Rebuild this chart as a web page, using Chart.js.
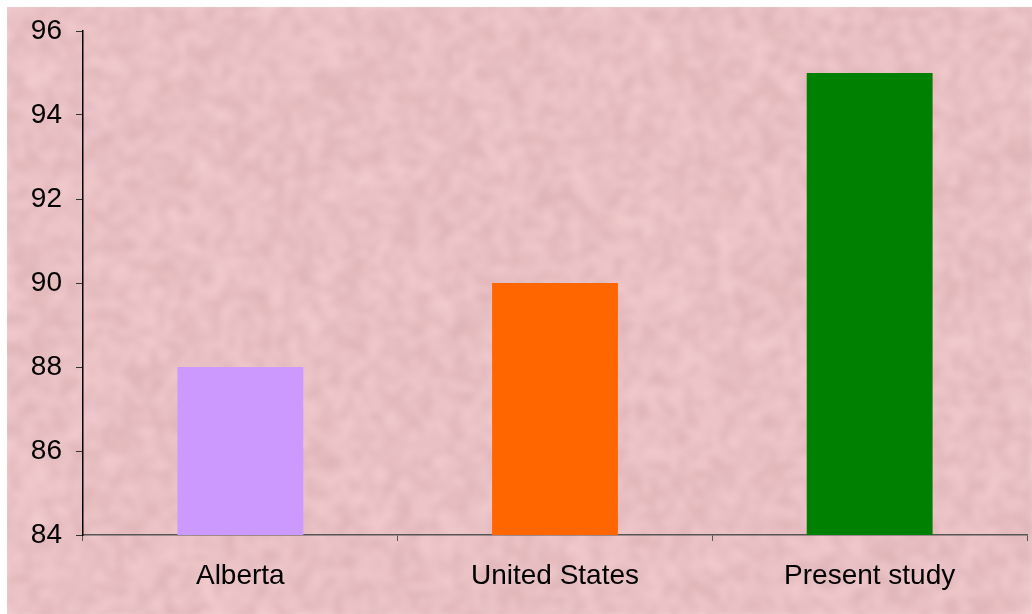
<!DOCTYPE html>
<html>
<head>
<meta charset="utf-8">
<script src="https://cdn.jsdelivr.net/npm/chart.js@4"></script>
<style>
  html, body { margin: 0; padding: 0; background: #ffffff; }
  #wrap { position: absolute; left: 0; top: 0; width: 1032px; height: 614px; }
</style>
</head>
<body>
<div id="wrap"><canvas id="chart" width="1032" height="614"></canvas></div>
<script>
const categories = ["Alberta", "United States", "Present study"];
const values = [88, 90, 95];
const barColors = ["#cc99ff", "#ff6600", "#008000"];
const yMin = 84;
const yMax = 96;
const yStep = 2;

// paper-like pink backdrop, seeded so it is the same on every load
function makePaper(w, h) {
  let seed = 20240611;
  const rnd = () => {
    seed = (seed * 1664525 + 1013904223) >>> 0;
    return seed / 4294967296;
  };
  const small = document.createElement("canvas");
  const sw = Math.ceil(w / 7), sh = Math.ceil(h / 7);
  small.width = sw;
  small.height = sh;
  const sctx = small.getContext("2d");
  const img = sctx.createImageData(sw, sh);
  for (let i = 0; i < sw * sh; i++) {
    const n = (rnd() - 0.5) * 24;
    img.data[i * 4] = 233 + n * 0.9;
    img.data[i * 4 + 1] = 192 + n * 1.1;
    img.data[i * 4 + 2] = 195 + n * 1.05;
    img.data[i * 4 + 3] = 255;
  }
  sctx.putImageData(img, 0, 0);

  const big = document.createElement("canvas");
  big.width = w;
  big.height = h;
  const bctx = big.getContext("2d");
  bctx.imageSmoothingEnabled = true;
  bctx.filter = "blur(3px)";
  bctx.drawImage(small, -4, -4, w + 8, h + 8);
  bctx.filter = "none";
  return big;
}

const paperPlugin = {
  id: "paper",
  beforeDraw(chart) {
    const ctx = chart.ctx;
    if (!chart.$paper) chart.$paper = makePaper(chart.width - 7, chart.height - 7);
    ctx.save();
    ctx.fillStyle = "#ffffff";
    ctx.fillRect(0, 0, chart.width, chart.height);
    ctx.drawImage(chart.$paper, 7, 7);
    ctx.restore();
  },
};

Chart.defaults.font.family = "'Liberation Sans', Arial, sans-serif";
Chart.defaults.color = "#000000";

new Chart(document.getElementById("chart"), {
  type: "bar",
  data: {
    labels: categories,
    datasets: [{
      data: values,
      backgroundColor: barColors,
      borderWidth: 0,
      categoryPercentage: 0.4,
      barPercentage: 1.0,
    }],
  },
  options: {
    responsive: false,
    animation: false,
    events: [],
    layout: { padding: { top: 31, right: 5, left: 0, bottom: 0 } },
    plugins: { legend: { display: false }, tooltip: { enabled: false } },
    scales: {
      x: {
        grid: {
          offset: true,
          drawOnChartArea: false,
          drawTicks: true,
          tickLength: 6,
          color: "#555555",
          tickWidth: 1,
        },
        border: { color: "#555555", width: 1.5 },
        ticks: { font: { size: 28 }, padding: 18, color: "#000000" },
        afterFit(scale) { scale.height = 79; },
      },
      y: {
        min: yMin,
        max: yMax,
        grid: {
          drawOnChartArea: false,
          drawTicks: true,
          tickLength: 7,
          color: "#333333",
          tickWidth: 1,
        },
        border: { color: "#000000", width: 1.5 },
        ticks: { stepSize: yStep, font: { size: 28 }, padding: 14, color: "#000000" },
        afterFit(scale) { scale.width = 83; },
      },
    },
  },
  plugins: [paperPlugin],
});
</script>
</body>
</html>
